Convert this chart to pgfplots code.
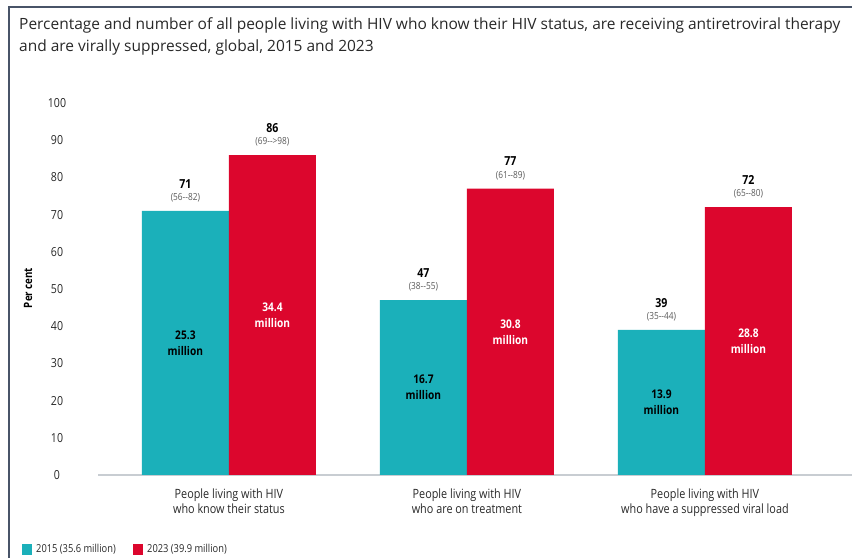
\documentclass[border=0pt]{standalone}
\usepackage{fontspec}
\setmainfont{Open Sans}
\newfontfamily\cond[FakeStretch=0.85]{Open Sans}
\usepackage{pgfplots}
\pgfplotsset{compat=1.18}
\definecolor{tealbar}{RGB}{27,176,186}
\definecolor{redbar}{RGB}{220,6,45}
\definecolor{frame}{RGB}{72,84,104}
\definecolor{axgray}{RGB}{200,205,210}
\definecolor{txt}{RGB}{40,40,40}
\definecolor{rng}{RGB}{90,90,90}
\begin{document}
\begin{tikzpicture}[x=1bp,y=1bp]
\useasboundingbox (0,0) rectangle (852,558);
\draw[frame, line width=2bp] (9,0) -- (9,551) -- (852,551);
\node[anchor=base west, inner sep=0, text=txt, font=\fontsize{15.55}{18}\selectfont] at (19,528) {Percentage and number of all people living with HIV who know their HIV status, are receiving antiretroviral therapy};
\node[anchor=base west, inner sep=0, text=txt, font=\fontsize{15.55}{18}\selectfont] at (19,506) {and are virally suppressed, global, 2015 and 2023};
\begin{axis}[
  at={(98bp,83bp)}, anchor=south west,
  scale only axis, width=754bp, height=372bp,
  xmin=-0.55, xmax=2.618, ymin=0, ymax=100,
  axis lines*=left,
  y axis line style={draw=none},
  x axis line style={draw=axgray, line width=1.2bp},
  major tick length=0pt,
  /pgf/number format/assume math mode=true,
  ytick={0,10,...,100},
  yticklabel style={anchor=center, xshift=-41bp, font=\cond\fontsize{12.5}{14}\selectfont, text=txt},
  xtick={0,1,2},
  xticklabels={People living with HIV\\who know their status, People living with HIV\\who are on treatment, People living with HIV\\who have a suppressed viral load},
  xticklabel style={align=center, font=\cond\fontsize{12.8}{15.5}\selectfont, text=txt, yshift=-10bp},
  ybar, clip=false,
]
\addplot[fill=tealbar, draw=none, bar width=87bp, bar shift=-43.5bp] coordinates {(0,71) (1,47) (2,39)};
\addplot[fill=redbar, draw=none, bar width=87bp, bar shift=43.5bp] coordinates {(0,86) (1,77) (2,72)};
% top labels
\foreach \xx/\v/\r in {-0.1828/71/(56--82), 0.8172/47/(38--55), 1.8172/39/(35--44), 0.1828/86/(69-->98), 1.1828/77/(61--89), 2.1828/72/(65--80)} {
  \edef\temp{\noexpand\node[font=\noexpand\cond\noexpand\bfseries\noexpand\fontsize{12.5}{14}\noexpand\selectfont, text=black] at (axis cs:\xx,\v) [yshift=27bp] {\v};
  \noexpand\node[font=\noexpand\cond\noexpand\fontsize{9.8}{11}\noexpand\selectfont, text=rng] at (axis cs:\xx,\v) [yshift=13bp] {\r};}
  \temp
}
% inner labels
\node[align=center, font=\cond\bfseries\fontsize{12}{16}\selectfont, text=black] at (axis cs:-0.1828,35.5) {25.3\\million};
\node[align=center, font=\cond\bfseries\fontsize{12}{16}\selectfont, text=white] at (axis cs:0.1828,43) {34.4\\million};
\node[align=center, font=\cond\bfseries\fontsize{12}{16}\selectfont, text=black] at (axis cs:0.8172,23.5) {16.7\\million};
\node[align=center, font=\cond\bfseries\fontsize{12}{16}\selectfont, text=white] at (axis cs:1.1828,38.5) {30.8\\million};
\node[align=center, font=\cond\bfseries\fontsize{12}{16}\selectfont, text=black] at (axis cs:1.8172,19.5) {13.9\\million};
\node[align=center, font=\cond\bfseries\fontsize{12}{16}\selectfont, text=white] at (axis cs:2.1828,36) {28.8\\million};
\end{axis}
\node[rotate=90, font=\cond\bfseries\fontsize{11.5}{13}\selectfont, text=black] at (28,270) {Per cent};
% legend
\fill[tealbar] (22,3) rectangle (32,14);
\node[anchor=west, inner sep=0, font=\cond\fontsize{11}{13}\selectfont, text=txt] at (36,8.5) {2015 (35.6 million)};
\fill[redbar] (133,3) rectangle (143,14);
\node[anchor=west, inner sep=0, font=\cond\fontsize{11}{13}\selectfont, text=txt] at (147,8.5) {2023 (39.9 million)};
\end{tikzpicture}
\end{document}
